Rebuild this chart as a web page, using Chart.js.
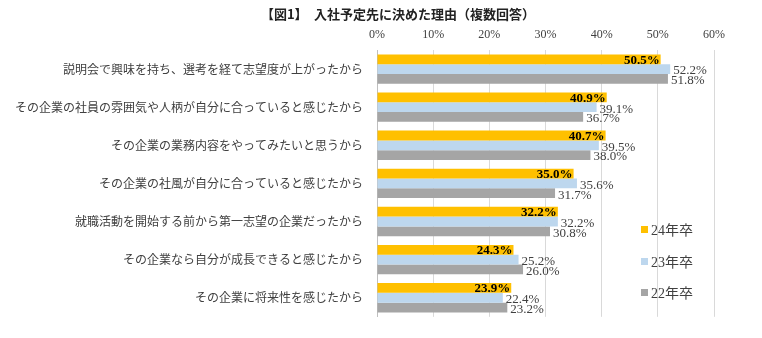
<!DOCTYPE html>
<html lang="ja">
<head>
<meta charset="UTF-8">
<title>入社予定先に決めた理由</title>
<script src="https://cdn.jsdelivr.net/npm/chart.js@4"></script>
<style>
  body { margin: 0; background: #fff; }
  #wrap { position: relative; width: 762px; height: 338px; }
  #title { position: absolute; left: 0; width: 796px; top: 4px; text-align: center;
           font: bold 13px "Noto Sans CJK JP", serif; color: #222; }
  #legend { position: absolute; left: 641px; top: 219px; font: 14px "Liberation Serif", "Noto Sans CJK JP"; color: #404040; }
  #legend div { height: 31.5px; display: flex; align-items: flex-start; }
  #legend span.box { display: inline-block; width: 7px; height: 7px; margin: 7px 3px 0 0; }
</style>
</head>
<body>
<div id="wrap">
  <div id="title">【図1】　入社予定先に決めた理由（複数回答）</div>
  <canvas id="reasonChart" width="762" height="338"></canvas>
  <div id="legend"></div>
</div>
<script>
  const reasons = [
    '説明会で興味を持ち、選考を経て志望度が上がったから',
    'その企業の社員の雰囲気や人柄が自分に合っていると感じたから',
    'その企業の業務内容をやってみたいと思うから',
    'その企業の社風が自分に合っていると感じたから',
    '就職活動を開始する前から第一志望の企業だったから',
    'その企業なら自分が成長できると感じたから',
    'その企業に将来性を感じたから'
  ];
  const grad24 = [50.5, 40.9, 40.7, 35.0, 32.2, 24.3, 23.9];
  const grad23 = [52.2, 39.1, 39.5, 35.6, 32.2, 25.2, 22.4];
  const grad22 = [51.8, 36.7, 38.0, 31.7, 30.8, 26.0, 23.2];
  const seriesNames = ['24年卒', '23年卒', '22年卒'];
  const seriesColors = ['#FFC000', '#BDD7EE', '#A5A5A5'];
  const xTicks = [0, 10, 20, 30, 40, 50, 60];

  // value labels: first series bold inside the bar end, others just outside
  const barLabels = {
    id: 'barLabels',
    afterDatasetsDraw(chart) {
      const ctx = chart.ctx;
      ctx.save();
      ctx.textBaseline = 'middle';
      chart.data.datasets.forEach((ds, i) => {
        chart.getDatasetMeta(i).data.forEach((bar, j) => {
          const txt = ds.data[j].toFixed(1) + '%';
          if (i === 0) {
            ctx.font = 'bold 13px "Liberation Serif"';
            ctx.fillStyle = '#000';
            ctx.textAlign = 'right';
            ctx.fillText(txt, bar.x - 1, bar.y + 1);
          } else {
            ctx.font = '13px "Liberation Serif"';
            ctx.fillStyle = '#404040';
            ctx.textAlign = 'left';
            ctx.fillText(txt, bar.x + 3, bar.y + 2);
          }
        });
      });
      ctx.restore();
    }
  };

  const ctx = document.getElementById('reasonChart').getContext('2d');
  const reasonChart = new Chart(ctx, {
    type: 'bar',
    data: {
      labels: reasons,
      datasets: [grad24, grad23, grad22].map((d, i) => ({
        label: seriesNames[i],
        data: d,
        backgroundColor: seriesColors[i],
        categoryPercentage: 0.77,
        barPercentage: 1.0
      }))
    },
    options: {
      indexAxis: 'y',
      responsive: false,
      animation: false,
      layout: { padding: { left: 0, right: 48, top: 0, bottom: 16 } },
      plugins: {
        legend: { display: false },
        tooltip: { enabled: false }
      },
      scales: {
        x: {
          position: 'top',
          min: 0,
          max: 60,
          afterBuildTicks: s => { s.ticks = xTicks.map(v => ({ value: v })); },
          afterFit: s => { s.height = 50; },
          grid: { color: '#d9d9d9', drawTicks: false },
          border: { display: false },
          ticks: {
            padding: 8,
            color: '#404040',
            font: { family: 'Liberation Serif', size: 12 },
            callback: v => v + '%'
          }
        },
        y: {
          afterFit: s => { s.width = 377; },
          grid: { display: false, drawTicks: false },
          border: { display: true, color: '#bfbfbf' },
          ticks: {
            padding: 14,
            color: '#404040',
            font: { family: 'Noto Sans CJK JP', size: 12 }
          }
        }
      }
    },
    plugins: [barLabels]
  });

  const legendEl = document.getElementById('legend');
  seriesNames.forEach((name, i) => {
    const row = document.createElement('div');
    row.innerHTML = '<span class="box" style="background:' + seriesColors[i] + '"></span>' + name;
    legendEl.appendChild(row);
  });
</script>
</body>
</html>
